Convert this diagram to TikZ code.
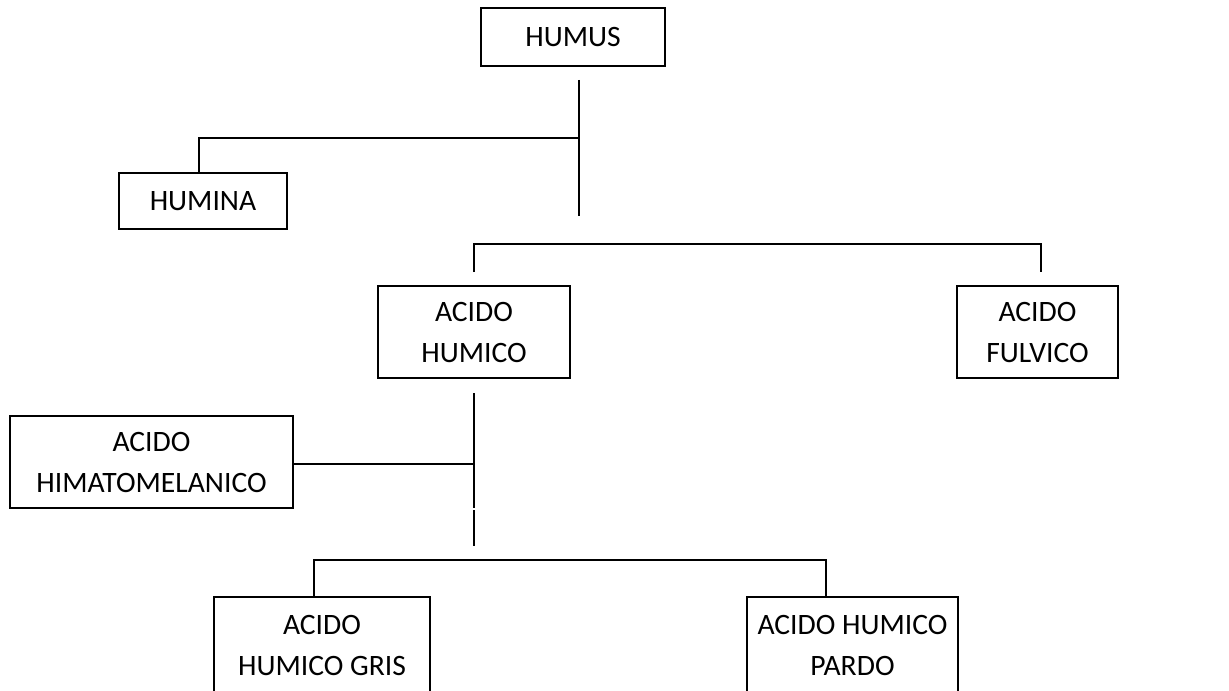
\documentclass[tikz,border=0pt]{standalone}
\usepackage{fontspec}
\setmainfont{Carlito}
\usepackage{tikz}

\tikzset{
  caja/.style={draw, line width=0.8pt, align=center, inner sep=0pt,
    font=\fontsize{14.8}{20.5}\selectfont},
}

\begin{document}
\begin{tikzpicture}[x=0.5pt,y=-0.5pt,line width=0.8pt]
	\useasboundingbox (0,0) rectangle (1229,690);
	\node[caja, minimum width=92pt, minimum height=29pt] (humus) at (573,37) {HUMUS};
	\node[caja, minimum width=84pt, minimum height=28pt] (humina) at (203,201) {HUMINA};
	\node[caja, minimum width=96pt, minimum height=46pt] (humico) at (474,332) {ACIDO\\HUMICO};
	\node[caja, minimum width=80.5pt, minimum height=46pt] (fulvico) at (1037.5,332) {ACIDO\\FULVICO};
	\node[caja, minimum width=141.5pt, minimum height=46pt] (himato) at (151.5,462) {ACIDO\\HIMATOMELANICO};
	\node[caja, minimum width=108pt, minimum height=48.5pt] (gris) at (322,645.5) {ACIDO\\HUMICO GRIS};
	\node[caja, minimum width=105.5pt, minimum height=48.5pt] (pardo) at (852.5,645.5) {ACIDO HUMICO\\PARDO};
	\coordinate (tallo) at (579,80);
	\coordinate (tallofin) at (579,216);
	\coordinate (rama) at (579,138);
	\coordinate (bi) at (474,272);
	\coordinate (bd) at (1041,272);
	\coordinate (s1) at (474,393);
	\coordinate (s2) at (474,508);
	\coordinate (s3) at (474,510);
	\coordinate (s4) at (474,546);
	\coordinate (bl) at (314,560);
	\coordinate (br) at (826,560);
	\draw (tallo) -- (tallofin);
	\draw (rama) -| ([xshift=-2pt]humina.north);
	\draw (bi) -- ++(0,-28) -| (bd);
	\draw (s1) -- (s2);
	\draw (s3) -- (s4);
	\draw ([yshift=-1pt]himato.east) -- ([yshift=-1pt]himato.east -| s1);
	\draw (bl |- gris.north) -- (bl) -- (br) -- (br |- pardo.north);
\end{tikzpicture}
\end{document}
